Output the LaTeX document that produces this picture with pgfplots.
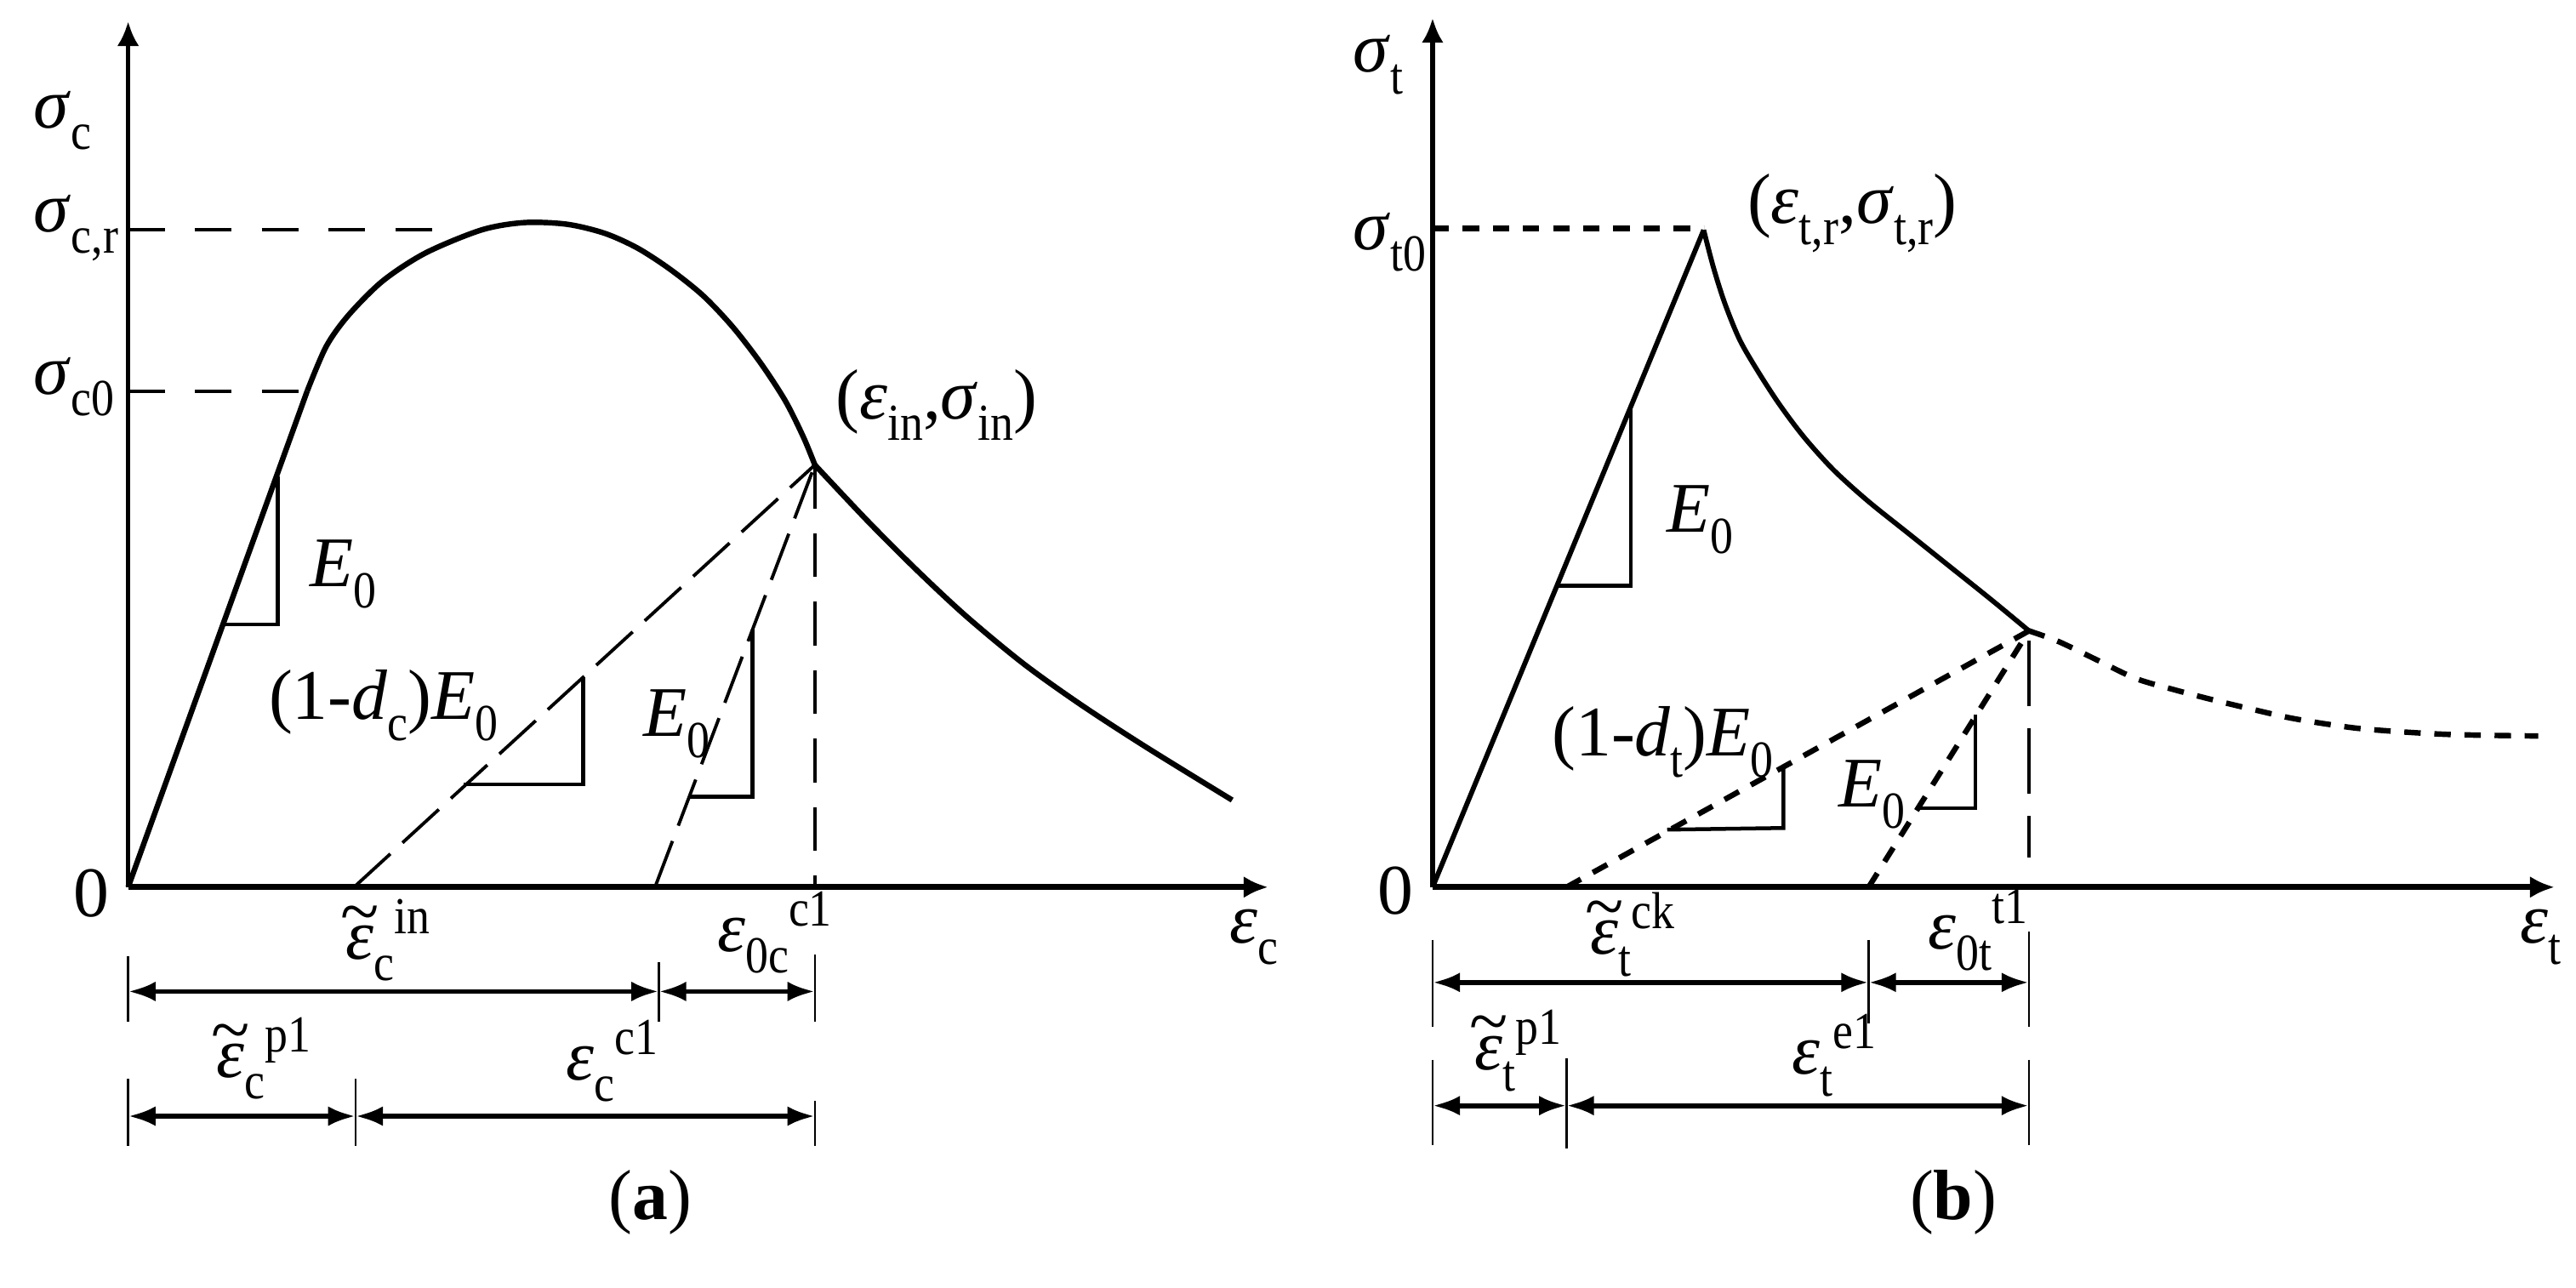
\documentclass[border=0pt]{standalone}
\usepackage{fontspec}
\setmainfont{Liberation Serif}
\usepackage{graphicx}
\usepackage{pgfplots}
\pgfplotsset{compat=1.18}
\usetikzlibrary{arrows.meta}

% label helpers: italic Greek, upright sub/superscripts set after the symbol
\newcommand{\lf}{\fontsize{13}{15}\selectfont}
\newcommand{\sub}[1]{\raisebox{-0.3em}{\scalebox{0.88}[1]{\fontsize{9.5}{10}\selectfont\upshape #1}}}
\newcommand{\sups}[1]{\raisebox{0.36em}{\scalebox{0.88}[1]{\fontsize{9.5}{10}\selectfont\upshape #1}}}
\newcommand{\tl}[1]{\ooalign{#1\cr\hidewidth\raisebox{0.34em}{\textasciitilde}\hidewidth\cr}}
\newcommand{\sig}{\textit{σ}}
\newcommand{\eps}{\textit{ε}}

\pgfplotsset{panel/.style={
  x=0.3pt, y=0.3pt, xmin=0, ymin=0, enlargelimits=false,
  axis x line=bottom, axis y line=left,
  xtick=\empty, ytick=\empty, clip=false, anchor=origin,
  x axis line style={line width=1.1pt, -{Latex[length=4.5pt,width=4pt]}},
  y axis line style={line width=0.8pt, -{Latex[length=4.5pt,width=4pt]}},
}}
\tikzset{
  lab/.style={font=\lf, inner sep=0pt, anchor=base west},
  cen/.style={font=\lf, inner sep=0pt, anchor=center},
  dim/.style={line width=0.9pt, {Latex[length=5pt,width=3.6pt]}-{Latex[length=5pt,width=3.6pt]}},
  tk/.style={line width=0.4pt},
  ldash/.style={black, line width=0.6pt, dash pattern=on 9pt off 3pt},
  sdash/.style={black, line width=1pt, dash pattern=on 3pt off 2.5pt},
  tri/.style={black, line width=0.7pt},
}

\begin{document}
\begin{tikzpicture}
% (a) compression
\begin{axis}[panel, xmax=694, ymax=527]
  \addplot[black, line width=1pt] coordinates {(0,0) (109,302)};
  \addplot[black, line width=1pt, smooth] coordinates {
    (109,302) (120.5,329) (134,348) (155,369) (181,386) (215,400) (241,404.5)
    (267,403.5) (290,398) (310,389) (330,376) (350,360) (368,341) (385,319)
    (400,296) (411,274) (418,257)};
  \addplot[black, line width=1pt, smooth] coordinates {
    (418,257) (450,223) (480,193) (510,165) (545,136) (580,111) (620,85) (672,53)};
  \addplot[black, line width=0.6pt, dash pattern=on 6.7pt off 5.5pt] coordinates {(0,400) (200,400)};
  \addplot[black, line width=0.6pt, dash pattern=on 6.7pt off 5.5pt] coordinates {(0,302) (105,302)};
  \addplot[ldash] coordinates {(137.5,0) (418,257)};
  \addplot[ldash] coordinates {(320.7,0) (418,257)};
  \addplot[black, line width=0.6pt, dash pattern=on 8pt off 4.5pt] coordinates {(418,257) (418,0)};
  \addplot[tri] coordinates {(57.8,160) (91.2,160) (91.2,250)};
  \addplot[tri] coordinates {(204,62.5) (277,62.5) (277,128)};
  \addplot[tri] coordinates {(342,55) (380,55) (380,157)};

  \node[lab] at (axis cs:-58,462) {\sig\sub{c}};
  \node[lab] at (axis cs:-58,399) {\sig\sub{c,r}};
  \node[lab] at (axis cs:-58,300) {\sig\sub{c0}};
  \node[cen] at (axis cs:-22.5,-4) {0};
  \node[lab] at (axis cs:430,285) {(\eps\sub{in},\sig\sub{in})};
  \node[lab] at (axis cs:110,183) {\textit{E}\sub{0}};
  \node[lab] at (axis cs:85,102) {(1-\textit{d}\sub{c})\textit{E}\sub{0}};
  \node[lab] at (axis cs:313,92) {\textit{E}\sub{0}};
  \node[lab] at (axis cs:670,-34) {\eps\sub{c}};

  \node[lab] at (axis cs:132,-44) {\tl{\eps}\sub{c}\sups{in}};
  \node[lab] at (axis cs:358,-39) {\eps\sub{0c}\sups{c1}};
  \node[lab] at (axis cs:53,-116) {\tl{\eps}\sub{c}\sups{p1}};
  \node[lab] at (axis cs:266,-117.5) {\eps\sub{c}\sups{c1}};

  \draw[dim] (axis cs:0,-63.5) -- (axis cs:323,-63.5);
  \draw[dim] (axis cs:323,-63.5) -- (axis cs:418,-63.5);
  \draw[dim] (axis cs:0,-139.4) -- (axis cs:138.4,-139.4);
  \draw[dim] (axis cs:138.4,-139.4) -- (axis cs:418,-139.4);
  \draw[tk] (axis cs:0,-42) -- (axis cs:0,-82);
  \draw[tk] (axis cs:323,-45.5) -- (axis cs:323,-82);
  \draw[tk] (axis cs:418,-41) -- (axis cs:418,-82);
  \draw[tk] (axis cs:0,-116.6) -- (axis cs:0,-157.4);
  \draw[tk] (axis cs:138.4,-116.6) -- (axis cs:138.4,-157.4);
  \draw[tk] (axis cs:418,-130) -- (axis cs:418,-157.4);

  \node[cen] at (axis cs:318,-192) {(\textbf{a})};
\end{axis}

% (b) tension
\begin{axis}[panel, at={(238.2pt,0pt)}, xmax=683, ymax=529]
  \addplot[black, line width=0.9pt] coordinates {(0,0) (165,400)};
  \addplot[black, line width=0.9pt, smooth] coordinates {
    (165,400) (171,377) (178,355) (187,333) (198,314) (211,294) (226,274)
    (244,254) (265,235) (290,215) (315,195) (340,175) (363,156)};
  \addplot[sdash, smooth] coordinates {
    (363,156) (381,149.5) (405,138) (428,127) (452,120) (475,114) (500,108)
    (522,103) (546,99) (570,96) (617,93) (673,92)};
  \addplot[sdash, line width=1.1pt] coordinates {(0,401) (165,401)};
  \addplot[sdash] coordinates {(81.5,0) (363,156)};
  \addplot[sdash] coordinates {(265.4,0) (363,156)};
  \addplot[black, line width=0.6pt, dash pattern=on 12pt off 4pt] coordinates {(363,150) (363,18)};
  \addplot[tri] coordinates {(75,183.5) (120.6,183.5) (120.6,294)};
  \addplot[tri] coordinates {(142.8,35) (213.5,36) (213.5,74)};
  \addplot[tri] coordinates {(296,48) (330.5,48) (330.5,105)};

  \node[lab] at (axis cs:-49,496) {\sig\sub{t}};
  \node[lab] at (axis cs:-49,388) {\sig\sub{t0}};
  \node[cen] at (axis cs:-22.5,-2) {0};
  \node[lab] at (axis cs:191,404) {(\eps\sub{t,r},\sig\sub{t,r})};
  \node[lab] at (axis cs:142,216) {\textit{E}\sub{0}};
  \node[lab] at (axis cs:72,80) {(1-\textit{d}\sub{t})\textit{E}\sub{0}};
  \node[lab] at (axis cs:246.5,49) {\textit{E}\sub{0}};
  \node[lab] at (axis cs:661.5,-34) {\eps\sub{t}};

  \node[lab] at (axis cs:95.6,-41) {\tl{\eps}\sub{t}\sups{ck}};
  \node[lab] at (axis cs:301,-37.6) {\eps\sub{0t}\sups{t1}};
  \node[lab] at (axis cs:25,-111) {\tl{\eps}\sub{t}\sups{p1}};
  \node[lab] at (axis cs:218,-114) {\eps\sub{t}\sups{e1}};

  \draw[dim] (axis cs:0,-58) -- (axis cs:265.4,-58);
  \draw[dim] (axis cs:265.4,-58) -- (axis cs:363,-58);
  \draw[dim] (axis cs:0,-133) -- (axis cs:81.5,-133);
  \draw[dim] (axis cs:81.5,-133) -- (axis cs:363,-133);
  \draw[tk] (axis cs:0,-32) -- (axis cs:0,-85);
  \draw[tk] (axis cs:265.4,-32) -- (axis cs:265.4,-83);
  \draw[tk] (axis cs:363,-27) -- (axis cs:363,-85);
  \draw[tk] (axis cs:0,-105) -- (axis cs:0,-157);
  \draw[tk] (axis cs:81.5,-104) -- (axis cs:81.5,-159);
  \draw[tk] (axis cs:363,-105) -- (axis cs:363,-157);

  \node[cen] at (axis cs:317,-192) {(\textbf{b})};
\end{axis}
\path (-23.4pt,-73.2pt) rectangle (447pt,162pt);
\end{tikzpicture}
\end{document}
